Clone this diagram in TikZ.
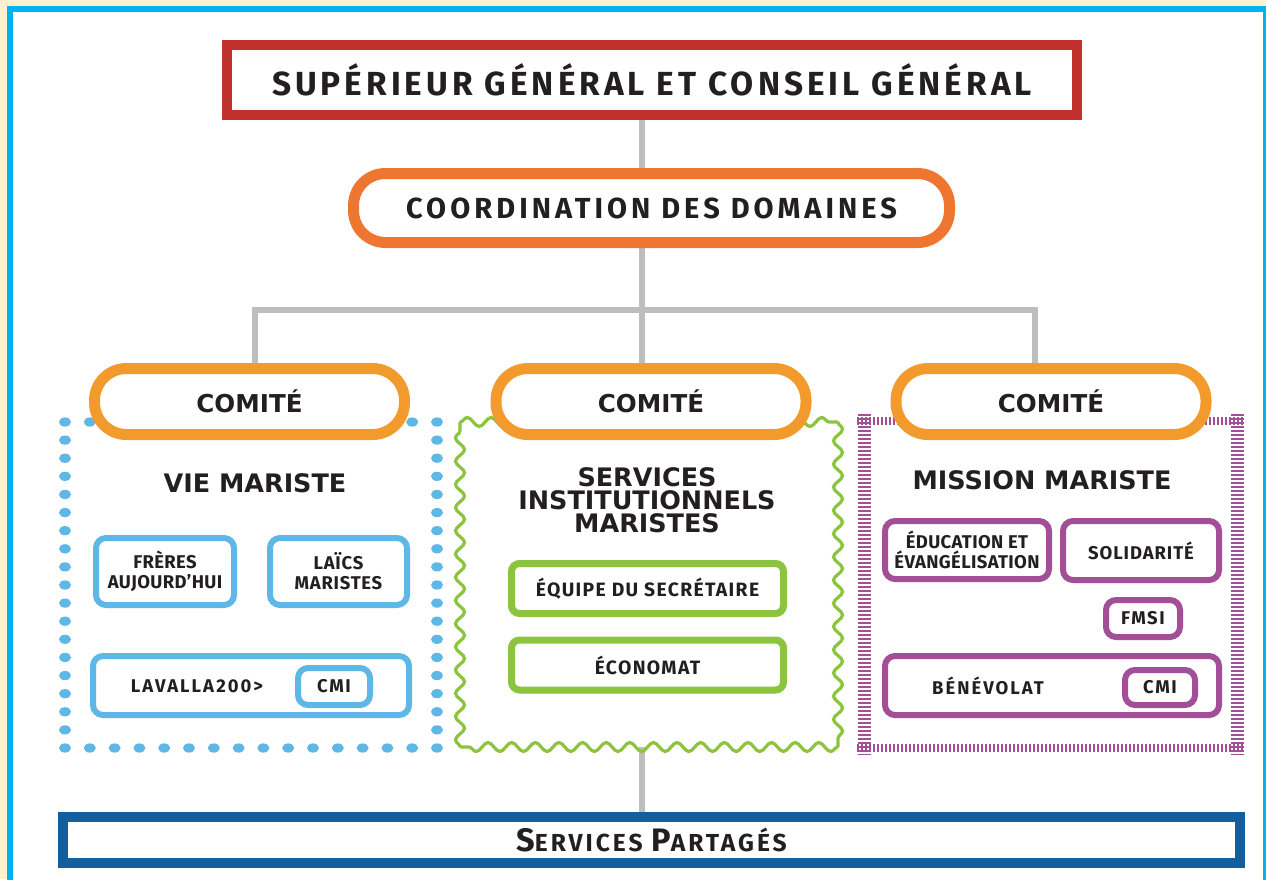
\documentclass[tikz,border=0pt]{standalone}
\usepackage{fontspec}
\setmainfont{Fira Sans}
\newfontfamily\headfont{DejaVu Sans}
\usetikzlibrary{shadows,decorations.pathmorphing}

\newlength{\upx}\setlength{\upx}{0.02cm}
\definecolor{cream}{HTML}{FFF1CF}
\definecolor{cyanc}{HTML}{00B2EF}
\definecolor{ink}{HTML}{231F20}
\definecolor{redc}{HTML}{C0302C}
\definecolor{coordc}{HTML}{EE7630}
\definecolor{comc}{HTML}{F29A2B}
\definecolor{linkc}{HTML}{BEBEBE}
\definecolor{vmc}{HTML}{5EB7E4}
\definecolor{simc}{HTML}{8DC43F}
\definecolor{mmc}{HTML}{A34F98}
\definecolor{sharedc}{HTML}{135F9E}

\pgfdeclarelayer{bg}
\pgfdeclarelayer{links}
\pgfsetlayers{bg,links,main}

\newcommand{\bodyfont}[1]{\fontsize{10.5}{11.5}\selectfont\bfseries\addfontfeatures{LetterSpace=#1}}
\tikzstyle{boxnode} = [draw, fill=white, inner sep=0pt, align=center, text=ink, font=\bodyfont{9}]
\tikzstyle{softshadow} = [drop shadow={shadow xshift=4\upx, shadow yshift=-4\upx, opacity=.2}]
\tikzstyle{topbox} = [boxnode, softshadow, draw=redc, line width=10\upx, minimum width=850\upx, minimum height=70\upx, font=\fontsize{19}{19}\selectfont\bfseries\addfontfeatures{LetterSpace=12}]
\tikzstyle{pill} = [boxnode, softshadow, rounded corners=32\upx, line width=11\upx, minimum height=66\upx]
\tikzstyle{comite} = [pill, draw=comc, minimum width=310\upx, font=\headfont\bfseries\fontsize{14}{14}\selectfont]
\tikzstyle{vmbox} = [boxnode, draw=vmc, line width=6\upx, rounded corners=10\upx]
\tikzstyle{simbox} = [boxnode, draw=simc, line width=7\upx, rounded corners=8\upx, minimum width=272\upx, minimum height=50\upx, font=\fontsize{11}{12}\selectfont\bfseries\addfontfeatures{LetterSpace=7}]
\tikzstyle{mmbox} = [boxnode, draw=mmc, line width=6\upx, rounded corners=10\upx]
\tikzstyle{plain} = [inner sep=0pt, text=ink, font=\bodyfont{11}]
\tikzstyle{heading} = [inner sep=0pt, align=center, text=ink, font=\headfont\bfseries\fontsize{14.5}{13}\selectfont]
\tikzstyle{link} = [draw=linkc, line width=6\upx]
\tikzstyle{dot} = [x radius=6\upx, y radius=4.6\upx]
\tikzstyle{hatch} = [mmc, dash pattern=on 2\upx off 2\upx]
\tikzstyle{wave} = [simc, line width=3.2\upx, decorate, decoration={snake, amplitude=4.5\upx, segment length=#1}]

\begin{document}
\begin{tikzpicture}[x=0.02cm, y=-0.02cm]
	\useasboundingbox (0,0) rectangle (1266,879);
	\begin{pgfonlayer}{bg}
		\fill[cream] (0,0) rectangle (1266,879);
		\fill[cyanc] (7,6) rectangle (1275,890);
		\fill[white] (13,12) rectangle (1263,890);
	\end{pgfonlayer}

	% vie mariste: dotted frame
	\foreach \i in {0,...,18} {
		\fill[vmc] (65,422+\i*18.11) ellipse [dot];
		\fill[vmc] (437,422+\i*18.11) ellipse [dot];
	}
	\foreach \i in {1,...,14} {
		\fill[vmc] (65+\i*24.8,422) ellipse [dot];
		\fill[vmc] (65+\i*24.8,748) ellipse [dot];
	}
	% services institutionnels: wavy frame, one side at a time
	\draw[wave=23.625\upx] (460,422) -- (838,422);
	\draw[wave=23.625\upx] (838,747) -- (460,747);
	\draw[wave=23.214\upx] (838,422) -- (838,747);
	\draw[wave=23.214\upx] (460,747) -- (460,422);
	% mission mariste: hatched frame
	\draw[hatch, line width=13\upx] (864,414) -- (864,755);
	\draw[hatch, line width=13\upx] (1237,414) -- (1237,755);
	\draw[hatch, line width=8\upx] (857,421) -- (1244,421);
	\draw[hatch, line width=8\upx] (857,748) -- (1244,748);

	\node[topbox] (sup) at (652,80) {SUPÉRIEUR GÉNÉRAL ET CONSEIL GÉNÉRAL};
	\node[pill, draw=coordc, minimum width=596\upx, minimum height=69\upx, font=\fontsize{16.5}{16.5}\selectfont\bfseries\addfontfeatures{LetterSpace=14}] (coord) at (651.5,208) {COORDINATION DES DOMAINES};

	\node[comite] (comA) at (249.5,401.5) {COMITÉ};
	\node[comite] (comB) at (651,401.5) {COMITÉ};
	\node[comite] (comC) at (1051,401.5) {COMITÉ};

	\node[heading] (vmtitle) at (255,483) {VIE MARISTE};
	\node[heading] (simtitle) at (647,500) {SERVICES\\INSTITUTIONNELS\\MARISTES};
	\node[heading] (mmtitle) at (1042,480) {MISSION MARISTE};

	\node[vmbox, minimum width=138\upx, minimum height=67\upx, font=\bodyfont{2}] (freres) at (165,571.5) {FRÈRES\\AUJOURD’HUI};
	\node[vmbox, minimum width=137\upx, minimum height=67\upx, font=\bodyfont{4}] (laics) at (338.5,571.5) {LAÏCS\\MARISTES};
	\node[vmbox, minimum width=316\upx, minimum height=59\upx] (lavalla) at (251,685.5) {};
	\node[plain] (lavtxt) at (197,686) {LAVALLA200>};
	\node[vmbox, minimum width=72\upx, minimum height=37\upx] (vmcmi) at (334,686.5) {CMI};

	\node[simbox] (equipe) at (647.5,588.5) {ÉQUIPE DU SECRÉTAIRE};
	\node[simbox] (econ) at (647.5,665) {ÉCONOMAT};

	\node[mmbox, minimum width=164\upx, minimum height=58\upx, font=\bodyfont{2}] (educ) at (967,550) {ÉDUCATION ET\\ÉVANGÉLISATION};
	\node[mmbox, minimum width=156\upx, minimum height=59\upx, font=\bodyfont{5}] (solid) at (1141,550.5) {SOLIDARITÉ};
	\node[mmbox, minimum width=74\upx, minimum height=37\upx] (fmsi) at (1143,618.5) {FMSI};
	\node[mmbox, minimum width=334\upx, minimum height=59\upx] (benev) at (1052,685.5) {};
	\node[plain] (benevtxt) at (988,686) {BÉNÉVOLAT};
	\node[mmbox, minimum width=70\upx, minimum height=35\upx] (mmcmi) at (1160,687.5) {CMI};

	\node[boxnode, softshadow, draw=sharedc, line width=10\upx, minimum width=1177\upx, minimum height=46\upx, font=\fontsize{14}{14}\selectfont\bfseries\addfontfeatures{LetterSpace=12}] (shared) at (651.5,840) {{\fontsize{18.5}{18.5}\selectfont S}ERVICES {\fontsize{18.5}{18.5}\selectfont P}ARTAGÉS};

	\begin{pgfonlayer}{links}
		\coordinate (spine) at (642,0);
		\coordinate (dropA) at (255,310);
		\coordinate (dropC) at (1035,310);
		\coordinate (simbot) at (642,747);
		\draw[link] (spine |- sup.south) -- (spine |- coord.north);
		\draw[link] (spine |- coord.south) -- (spine |- comB.north);
		\draw[link] (dropA |- comA.north) -- (dropA) -- (dropC) -- (dropC |- comC.north);
		\draw[link] (simbot) -- (spine |- shared.north);
	\end{pgfonlayer}
\end{tikzpicture}
\end{document}
